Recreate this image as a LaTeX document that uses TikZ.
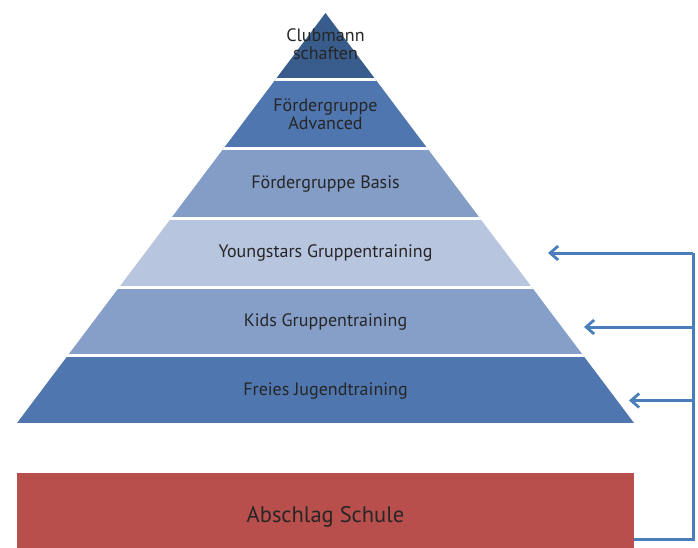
\documentclass[tikz,border=0pt]{standalone}
\usepackage{fontspec}
\setmainfont{PT Sans}
\usetikzlibrary{arrows.meta}
\definecolor{lvlA}{HTML}{385C8B}
\definecolor{lvlB}{HTML}{4F76AE}
\definecolor{lvlC}{HTML}{839DC7}
\definecolor{lvlD}{HTML}{B8C5DF}
\definecolor{lvlE}{HTML}{869FC9}
\definecolor{lvlF}{HTML}{4F76AE}
\definecolor{baseRed}{HTML}{B94F4C}
\definecolor{linkBlue}{HTML}{4A7EBB}
\definecolor{txt}{HTML}{262626}
\begin{document}
\begin{tikzpicture}[x=1pt,y=-1pt,
  lvltext/.style={text=txt,font=\fontsize{18}{19}\selectfont,align=center,inner sep=0pt},
  link/.style={draw=linkBlue,line width=3pt,line join=miter},
  tip/.style={-{Straight Barb[length=8pt,width=14pt,line width=2.8pt]}}]
  \useasboundingbox (0,0) rectangle (698,548);
  % pyramid layers, clipped to the triangle
  \begin{scope}
    \clip (325.5,13) -- (634,423) -- (17,423) -- cycle;
    \fill[lvlA] (0,0) rectangle (698,79.5);
    \fill[lvlB] (0,79.5) rectangle (698,148.5);
    \fill[lvlC] (0,148.5) rectangle (698,218);
    \fill[lvlD] (0,218) rectangle (698,287);
    \fill[lvlE] (0,287) rectangle (698,355.5);
    \fill[lvlF] (0,355.5) rectangle (698,423);
    \foreach \yy in {79.5,148.5,218,287,355.5}
      \draw[white,line width=3pt] (0,\yy) -- (698,\yy);
  \end{scope}
  % layer labels
  \node[lvltext] (l1) at (325.5,44) {Clubmann\\[-1pt]schaften};
  \node[lvltext] (l2) at (325.5,114) {Fördergruppe\\[-1pt]Advanced};
  \node[lvltext] (l3) at (325.5,184) {Fördergruppe Basis};
  \node[lvltext] (l4) at (325.5,253) {Youngstars Gruppentraining};
  \node[lvltext] (l5) at (325.5,322) {Kids Gruppentraining};
  \node[lvltext] (l6) at (325.5,391.5) {Freies Jugendtraining};
  % base block
  \node[fill=baseRed,minimum width=617pt,minimum height=80pt,inner sep=0pt] (base) at (325.5,513) {};
  \node[text=txt,font=\fontsize{22.5}{26}\selectfont,inner sep=0pt] (baseText) at (325.5,516.5) {Abschlag Schule};
  % feedback connectors
  \coordinate (trunkTop) at (693,253);
  \coordinate (trunkBot) at (693,539);
  \coordinate (baseOut) at (634,539);
  \coordinate (t4) at (548,253);
  \coordinate (t5) at (584,327);
  \coordinate (t6) at (629,400.5);
  \draw[link] (baseOut) -- (trunkBot) -- (trunkTop);
  \draw[link,tip] (trunkTop) -- (t4);
  \draw[link,tip] (trunkTop |- t5) -- (t5);
  \draw[link,tip] (trunkTop |- t6) -- (t6);
\end{tikzpicture}
\end{document}
